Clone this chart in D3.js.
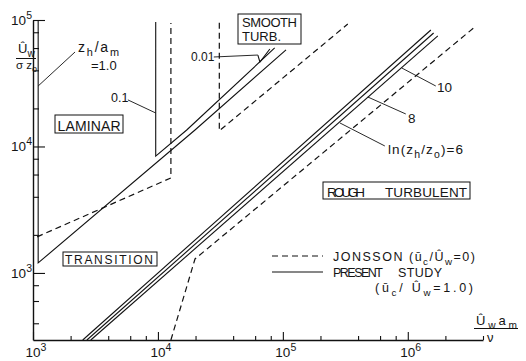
<!DOCTYPE html>
<html>
<head>
<meta charset="utf-8">
<script src="https://cdn.jsdelivr.net/npm/d3@7"></script>
<style>
  html, body { margin: 0; padding: 0; background: #fff; }
  svg { display: block; }
  text { font-family: "Liberation Sans", Arial, sans-serif; fill: #151515; }
</style>
</head>
<body>
<svg id="chart" width="526" height="361"></svg>
<script>
// ---- axes: wave Reynolds number Û_w a_m / ν  vs  Û_w / (σ z_0) ----
const xMajor = [1e3, 1e4, 1e5, 1e6];
const xMinor = [2e3, 4e3, 6e3, 8e3, 2e4, 4e4, 6e4, 8e4, 2e5, 4e5, 6e5, 8e5, 2e6, 4e6];
const yMajor = [1e3, 1e4, 1e5];
const yMinor = [400, 600, 800, 2e3, 4e3, 6e3, 8e3, 2e4, 4e4, 6e4, 8e4];
const xTickExp = ["3", "4", "5", "6"];
const yTickExp = ["3", "4", "5"];

// ---- present study (ū_c/Û_w = 1.0): laminar / smooth boundaries for z_h/a_m ----
const presentZh10  = [[1.1e3, 1e5], [1.1e3, 1200], [1.98e4, 13500], [1.06e5, 58000]];
const presentZh01  = [[9.6e3, 96400], [9.6e3, 8400], [1.7e4, 13500], [8.6e4, 60100]];
const presentZh001 = [[6.31e4, 52840], [6.55e4, 46560], [7.87e4, 59000]];

// ---- present study: rough turbulent boundaries for ln(z_h/z_0) = 6, 8, 10 ----
const roughLn6  = [[2.5e3, 295], [1.53e6, 83400]];
const roughLn8  = [[2.7e3, 295], [1.61e6, 78900]];
const roughLn10 = [[2.9e3, 295], [1.74e6, 74800]];

// ---- Jonsson (ū_c/Û_w = 0) ----
const jonssonLaminar = [[1.08e3, 1930], [1.27e4, 5640], [1.27e4, 94700]];
const jonssonSmooth  = [[3.1e4, 95000], [3.1e4, 13300], [3.31e5, 92900]];
const jonssonRough   = [[1.27e4, 295], [1.98e4, 1290], [3.44e6, 88100]];

// ---- leader lines (data coordinates: from label end to curve) ----
const leaderZh10  = [[2170, 55850], [1.1e3, 30070]];
const leaderZh01  = [[5750, 23350], [9.6e3, 18400]];
const leaderZh001 = [[2.8e4, 51000], [6.31e4, 52840]];
const leaderLn10  = [[8.95e5, 41750], [1.675e6, 30070]];
const leaderLn8   = [[4.79e5, 24600], [9.64e5, 18070]];
const leaderLn6   = [[2.86e5, 15350], [6.55e5, 10090]];

const svg = d3.select("#chart");
const x = d3.scaleLog().domain([1e3, 4e6]).range([33, 483]);
const y = d3.scaleLog().domain([295, 1e5]).range([340, 20]);
const line = d3.line().x(d => x(d[0])).y(d => y(d[1]));

// rich text helper: parts = [[string, ""|"sub"|"sup"], ...]
function rich(sel, px, py, parts, size, anchor, len) {
  const t = sel.append("text")
    .attr("x", px).attr("y", py)
    .attr("font-size", size)
    .attr("text-anchor", anchor || "start");
  let shift = 0;
  parts.forEach(([s, k]) => {
    const target = k === "sub" ? size * 0.3 : k === "sup" ? -size * 0.45 : 0;
    t.append("tspan")
      .attr("dy", target - shift)
      .attr("font-size", k ? size * 0.78 : size)
      .text(s);
    shift = target;
  });
  if (len) t.attr("textLength", len).attr("lengthAdjust", "spacing");
  return t;
}

// ---- axes ----
const gx = svg.append("g").attr("transform", `translate(0,${y.range()[0]})`);
gx.call(d3.axisBottom(x).tickValues(xMajor).tickSizeInner(-8).tickSizeOuter(0).tickFormat(""));
const gxm = svg.append("g").attr("transform", `translate(0,${y.range()[0]})`);
gxm.call(d3.axisBottom(x).tickValues(xMinor).tickSizeInner(-4).tickSizeOuter(0).tickFormat(""));
gxm.select(".domain").remove();

const gy = svg.append("g").attr("transform", `translate(${x.range()[0]},0)`);
gy.call(d3.axisLeft(y).tickValues(yMajor).tickSizeInner(-12).tickSizeOuter(0).tickFormat(""));
const gym = svg.append("g").attr("transform", `translate(${x.range()[0]},0)`);
gym.call(d3.axisLeft(y).tickValues(yMinor).tickSizeInner(-6).tickSizeOuter(0).tickFormat(""));
gym.select(".domain").remove();

svg.selectAll(".domain").attr("stroke", "#111").attr("stroke-width", 1.4);
svg.selectAll(".tick line").attr("stroke", "#111").attr("stroke-width", 1.1);

// tick labels 10^n
xMajor.forEach((v, i) => {
  rich(svg, x(v) - 7.5, 357, [["10", ""], [xTickExp[i], "sup"]], 13.5, "start");
});
yMajor.forEach((v, i) => {
  rich(svg, x.range()[0] - 1, y(v) + 5, [["10", ""], [yTickExp[i], "sup"]], 13.5, "end");
});

// axis titles
rich(svg, 476, 325, [["Û", ""], ["w", "sub"], ["a", ""], ["m", "sub"]], 13, "start", 41);
svg.append("line").attr("x1", 474).attr("x2", 518).attr("y1", 328.5).attr("y2", 328.5)
  .attr("stroke", "#111").attr("stroke-width", 1);
svg.append("text").attr("x", 487).attr("y", 342).attr("font-size", 13).text("ν");

rich(svg, 18, 53, [["Û", ""], ["w", "sub"]], 13, "start");
svg.append("line").attr("x1", 16).attr("x2", 36).attr("y1", 58.5).attr("y2", 58.5)
  .attr("stroke", "#111").attr("stroke-width", 1);
rich(svg, 16, 69, [["σ z", ""], ["o", "sub"]], 11.5, "start");

// ---- curves ----
const g = svg.append("g").attr("fill", "none").attr("stroke", "#111");
[presentZh10, presentZh01, presentZh001, roughLn6, roughLn8, roughLn10].forEach(d =>
  g.append("path").attr("d", line(d)).attr("stroke-width", 1.1));
[jonssonLaminar, jonssonSmooth, jonssonRough].forEach(d =>
  g.append("path").attr("d", line(d)).attr("stroke-width", 1.2).attr("stroke-dasharray", "6,4"));
[leaderZh10, leaderZh01, leaderZh001, leaderLn10, leaderLn8, leaderLn6].forEach(d =>
  g.append("path").attr("d", line(d)).attr("stroke-width", 0.9));

// ---- curve labels ----
rich(svg, 78, 52, [["z", ""], ["h", "sub"], ["/a", ""], ["m", "sub"]], 14, "start", 41);
svg.append("text").attr("x", 91).attr("y", 70).attr("font-size", 13).text("=1.0");
svg.append("text").attr("x", 111).attr("y", 102).attr("font-size", 12.5).text("0.1");
svg.append("text").attr("x", 191).attr("y", 61).attr("font-size", 12).text("0.01");
svg.append("text").attr("x", 437).attr("y", 92).attr("font-size", 13.5).text("10");
svg.append("text").attr("x", 408).attr("y", 123).attr("font-size", 13.5).text("8");
rich(svg, 388, 154, [["ln(z", ""], ["h", "sub"], ["/z", ""], ["o", "sub"], [")=6", ""]], 13.5, "start", 75);

// ---- boxed regime labels ----
function boxed(x0, y0, x1, y1) {
  svg.append("rect").attr("x", x0).attr("y", y0).attr("width", x1 - x0).attr("height", y1 - y0)
    .attr("fill", "none").attr("stroke", "#111").attr("stroke-width", 1);
}
function label(px, py, s, size, len) {
  const t = svg.append("text").attr("x", px).attr("y", py).attr("font-size", size).text(s);
  if (len) t.attr("textLength", len).attr("lengthAdjust", "spacing");
  return t;
}
boxed(55, 115, 123, 133);
label(57.5, 131, "LAMINAR", 14, 63);
boxed(238, 14, 301, 44);
label(242, 27, "SMOOTH", 13, 55);
label(242, 41, "TURB.", 13, 39);
boxed(63, 252, 157, 266);
label(65, 263.5, "TRANSITION", 12, 88);
boxed(323, 182, 470, 199);
label(327, 197, "ROUGH", 13.5, 38);
label(385, 197, "TURBULENT", 13.5, 82);

// ---- legend ----
svg.append("line").attr("x1", 272).attr("x2", 323).attr("y1", 256).attr("y2", 256)
  .attr("stroke", "#111").attr("stroke-width", 1.2).attr("stroke-dasharray", "6,4");
svg.append("line").attr("x1", 272).attr("x2", 323).attr("y1", 272).attr("y2", 272)
  .attr("stroke", "#111").attr("stroke-width", 1.2);
rich(svg, 333, 261, [["JONSSON (ū", ""], ["c", "sub"], ["/Û", ""], ["w", "sub"], ["=0)", ""]], 12.5, "start", 142);
label(333, 277, "PRESENT", 12.5, 50);
label(398, 277, "STUDY", 12.5, 44);
rich(svg, 375, 292, [["(ū", ""], ["c", "sub"], ["/ Û", ""], ["w", "sub"], ["=1.0)", ""]], 12.5, "start", 98);
</script>
</body>
</html>
